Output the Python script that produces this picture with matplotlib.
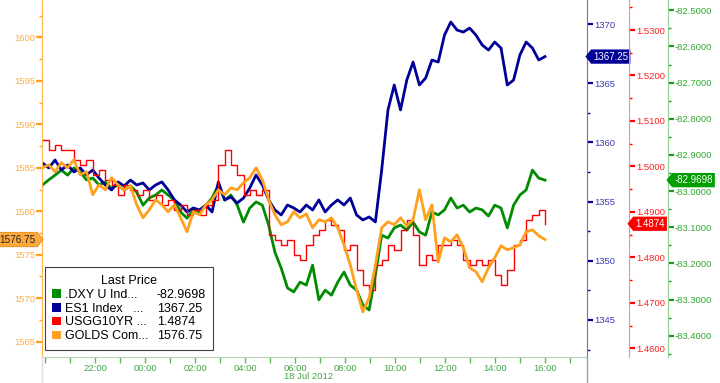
import numpy as np
import matplotlib
matplotlib.use("Agg")
import matplotlib.pyplot as plt
import matplotlib.ticker as mticker
from matplotlib.path import Path
from matplotlib.patches import Patch
from matplotlib.lines import Line2D

plt.rcParams["font.family"] = ["Liberation Sans", "DejaVu Sans"]

# hours relative to 00:00 18 Jul 2012 (data runs ~19:54 on 17 Jul to 16:00)
hours = np.linspace(-4.1, 16.0, 81)

dxy = [-82.983, -82.969, -82.956, -82.942, -82.956, -82.936, -82.947, -82.969, -82.964, -82.983,
       -82.975, -82.992, -82.983, -82.997, -82.986, -83.003, -83.039, -83.019, -83.011, -82.997,
       -83.011, -83.025, -83.058, -83.075, -83.052, -83.058, -83.039, -83.019, -82.983, -83.025,
       -83.011, -83.039, -83.086, -83.047, -83.030, -83.039, -83.094, -83.169, -83.213, -83.268,
       -83.279, -83.252, -83.260, -83.205, -83.301, -83.274, -83.288, -83.252, -83.224, -83.260,
       -83.274, -83.315, -83.329, -83.232, -83.122, -83.130, -83.102, -83.094, -83.108, -83.086,
       -83.113, -83.122, -83.058, -83.066, -83.052, -83.019, -83.047, -83.039, -83.058, -83.047,
       -83.052, -83.069, -83.039, -83.047, -83.102, -83.039, -83.011, -82.997, -82.942, -82.964,
       -82.9698]

es1 = [1358.26, 1357.84, 1358.51, 1357.67, 1358.09, 1357.50, 1357.84, 1357.25, 1357.67, 1356.99,
       1356.40, 1355.98, 1356.66, 1356.32, 1356.82, 1356.40, 1356.57, 1355.98, 1356.40, 1356.66,
       1355.98, 1355.14, 1354.71, 1354.12, 1354.46, 1354.29, 1354.71, 1354.12, 1356.66, 1355.14,
       1355.39, 1354.88, 1355.30, 1356.15, 1357.25, 1356.40, 1355.14, 1354.29, 1353.87, 1354.71,
       1354.46, 1354.12, 1354.71, 1354.29, 1355.14, 1354.12, 1354.71, 1355.14, 1354.71, 1355.30,
       1353.87, 1353.45, 1353.70, 1353.28, 1357.67, 1362.74, 1364.85, 1362.74, 1365.27, 1366.79,
       1364.85, 1365.44, 1366.96, 1366.79, 1369.07, 1370.17, 1369.49, 1369.32, 1369.66, 1369.07,
       1368.23, 1367.80, 1368.48, 1367.97, 1364.85, 1365.27, 1367.38, 1368.48, 1367.97, 1366.96,
       1367.25]

usgg10 = [1.5058, 1.5036, 1.5047, 1.5036, 1.5036, 1.5014, 1.5003, 1.5014, 1.4981, 1.4992,
          1.4970, 1.4959, 1.4937, 1.4959, 1.4948, 1.4937, 1.4948, 1.4926, 1.4937, 1.4915,
          1.4926, 1.4904, 1.4915, 1.4893, 1.4904, 1.4893, 1.4915, 1.4926, 1.5003, 1.5036,
          1.5003, 1.4981, 1.4937, 1.4948, 1.4937, 1.4948, 1.4849, 1.4838, 1.4827, 1.4838,
          1.4805, 1.4794, 1.4827, 1.4849, 1.4860, 1.4882, 1.4871, 1.4860, 1.4816, 1.4827,
          1.4772, 1.4739, 1.4728, 1.4783, 1.4794, 1.4827, 1.4816, 1.4860, 1.4882, 1.4849,
          1.4783, 1.4805, 1.4794, 1.4827, 1.4827, 1.4838, 1.4827, 1.4794, 1.4783, 1.4794,
          1.4783, 1.4794, 1.4761, 1.4739, 1.4772, 1.4827, 1.4838, 1.4882, 1.4893, 1.4904,
          1.4874]

golds = [1585.0, 1585.35, 1584.55, 1585.59, 1585.0, 1585.93, 1584.2, 1584.55, 1581.9, 1583.05,
         1582.47, 1583.86, 1583.05, 1582.47, 1582.93, 1580.75, 1579.25, 1580.17, 1581.32, 1580.75,
         1579.94, 1580.75, 1579.25, 1577.64, 1579.94, 1579.6, 1580.75, 1581.32, 1582.47, 1581.9,
         1582.7, 1582.47, 1583.28, 1583.86, 1585.0, 1583.63, 1581.32, 1579.6, 1578.45, 1578.79,
         1579.94, 1579.25, 1579.71, 1578.1, 1579.02, 1578.79, 1579.25, 1578.1, 1576.14, 1573.84,
         1570.97, 1568.43, 1570.05, 1573.84, 1578.1, 1578.79, 1578.45, 1579.25, 1578.33, 1579.02,
         1582.47, 1579.02, 1580.75, 1574.19, 1576.95, 1576.49, 1577.3, 1575.8, 1573.5, 1573.04,
         1571.89, 1573.5, 1574.65, 1576.03, 1575.57, 1575.8, 1576.14, 1577.64, 1577.87, 1577.18,
         1576.75]

names = [".DXY U Ind...", "ES1 Index   ...", "USGG10YR ...", "GOLDS Com..."]
last_vals = ["-82.9698", "1367.25", "1.4874", "1576.75"]
hour_labels = [-2, 0, 2, 4, 6, 8, 10, 12, 14, 16]

c_green, c_blue, c_red, c_gold = "#008C00", "#000096", "#FF0000", "#FFA01E"

# offsets of the two outer right axes, in points (42 px and 81 px at 100 dpi)
red_off = 42 * 0.72
green_off = 81 * 0.72


def tag_left(x0, y0, width, height, mutation_size):
    pad = 0.22 * mutation_size
    x0, y0 = x0 - pad, y0 - pad
    x1, y1 = x0 + width + 2 * pad, y0 + height + 2 * pad
    ym = (y0 + y1) / 2
    tip = (y1 - y0) * 0.4
    return Path([(x0 - tip, ym), (x0, y0), (x1, y0), (x1, y1), (x0, y1), (x0 - tip, ym)], closed=True)


def tag_right(x0, y0, width, height, mutation_size):
    pad = 0.22 * mutation_size
    x0, y0 = x0 - pad, y0 - pad
    x1, y1 = x0 + width + 2 * pad, y0 + height + 2 * pad
    ym = (y0 + y1) / 2
    tip = (y1 - y0) * 0.4
    return Path([(x0, y0), (x1, y0), (x1 + tip, ym), (x1, y1), (x0, y1), (x0, y0)], closed=True)


fig = plt.figure(figsize=(7.2, 3.83), dpi=100)
ax = fig.add_axes([42 / 720, 1 - 357 / 383, 545 / 720, 357 / 383])
ax_b = ax.twinx()
ax_r = ax.twinx()
ax_g = ax.twinx()

ax.plot(hours, dxy, color=c_green, lw=2.0)
ax_b.plot(hours, es1, color=c_blue, lw=2.0)
ax_r.plot(hours, usgg10, color=c_red, lw=1.0, drawstyle="steps-post")
ax_g.plot(hours, golds, color=c_gold, lw=2.0)

ax.set_xlim(-4.12, 17.68)
ax.set_ylim(-83.459, -82.4715)
ax_b.set_ylim(1341.87, 1372.03)
ax_r.set_ylim(1.4581, 1.5366)
ax_g.set_ylim(1563.24, 1604.3)

# x axis
ax.set_xticks(hour_labels)
ax.set_xticklabels(["%02d:00" % (h % 24) for h in hour_labels])
ax.xaxis.set_minor_locator(mticker.MultipleLocator(1))
ax.tick_params(axis="x", which="both", colors="#5DB85D", labelcolor="#44A444", labelsize=6.8,
               length=4, width=1, direction="out", pad=1)
ax.text(6.55, -0.042, "18 Jul 2012", transform=ax.get_xaxis_transform(), ha="center", va="top",
        fontsize=6.8, color="#44A444")

# spines
for a in (ax, ax_b, ax_r, ax_g):
    a.spines["top"].set_visible(False)
for a in (ax_b, ax_r, ax_g):
    a.spines["bottom"].set_visible(False)
ax.spines["bottom"].set_color("#B0D8B0")
ax.spines["left"].set_visible(False)
ax_b.spines["left"].set_visible(False)
ax_r.spines["left"].set_visible(False)
ax_g.spines["right"].set_visible(False)

ax.yaxis.tick_right()
ax.spines["right"].set_position(("outward", green_off))
ax.spines["right"].set_color("#8FD08F")
ax_b.spines["right"].set_color("#7070C8")
ax_r.spines["right"].set_position(("outward", red_off))
ax_r.spines["right"].set_color("#FF8A8A")
ax_g.yaxis.tick_left()
ax_g.spines["left"].set_visible(True)
ax_g.spines["left"].set_color("#FFB450")

axis_specs = [
    (ax, 0.1, 0.05, "%.4f", "#1E961E", "#30A830"),
    (ax_b, 5, 2.5, "%d", "#000096", "#3C3CB4"),
    (ax_r, 0.01, 0.005, "%.4f", "#FF0000", "#FF2020"),
    (ax_g, 5, 2.5, "%d", "#FFA01E", "#F5B050"),
]
for a, maj, mnr, fmt, tc, lc in axis_specs:
    a.yaxis.set_major_locator(mticker.MultipleLocator(maj))
    a.yaxis.set_minor_locator(mticker.MultipleLocator(mnr))
    a.yaxis.set_major_formatter(mticker.FormatStrFormatter(fmt))
    a.tick_params(axis="y", which="major", colors=tc, labelcolor=lc, labelsize=6.8,
                  length=4, width=1.6, direction="out", pad=1)
    a.tick_params(axis="y", which="minor", colors=tc, length=2, width=1, direction="out")

# last value tags
ax_b.annotate(last_vals[1], xy=(1, es1[-1]), xycoords=("axes fraction", "data"),
              xytext=(4.5, 0), textcoords="offset points", ha="left", va="center",
              fontsize=7, color="white",
              bbox=dict(boxstyle=tag_left, fc=c_blue, ec="none"))
ax_r.annotate(last_vals[2], xy=(1, usgg10[-1]), xycoords=("axes fraction", "data"),
              xytext=(red_off + 4.5, 0), textcoords="offset points", ha="left", va="center",
              fontsize=7, color="white",
              bbox=dict(boxstyle=tag_left, fc=c_red, ec="none"))
ax.annotate(last_vals[0], xy=(1, dxy[-1]), xycoords=("axes fraction", "data"),
            xytext=(green_off + 4.5, 0), textcoords="offset points", ha="left", va="center",
            fontsize=7, color="white",
            bbox=dict(boxstyle=tag_left, fc="#009E00", ec="none"), annotation_clip=False)
ax_g.annotate(last_vals[3], xy=(0, golds[-1]), xycoords=("axes fraction", "data"),
              xytext=(-5, 0), textcoords="offset points", ha="right", va="center",
              fontsize=7.2, color="#222222",
              bbox=dict(boxstyle=tag_right, fc="#FFA83C", ec="#E08A10", lw=0.6))

# legend
handles = [Patch(facecolor=c) for c in (c_green, c_blue, c_red, c_gold)]
handles += [Patch(facecolor="none", edgecolor="none") for _ in range(4)]
leg = ax_g.legend(handles, names + last_vals, ncol=2, title="Last Price", loc="lower left",
                  bbox_to_anchor=(0.005, 0.02), borderaxespad=0, fontsize=9, title_fontsize=9,
                  handlelength=0.7, handleheight=0.7, handletextpad=0.3, columnspacing=-0.3,
                  labelspacing=0.15, fancybox=False, framealpha=1, edgecolor="#404040",
                  borderpad=0.6)
leg.get_frame().set_linewidth(0.8)

# grey lines below the x axis at both ends
pos = ax.get_position()
for xf, col in ((pos.x1, "#A0A0A0"), (pos.x0, "#E0E0E0")):
    fig.add_artist(Line2D([xf, xf], [0, pos.y0], transform=fig.transFigure, color=col, lw=1))

fig.savefig("out.png", dpi=100)
